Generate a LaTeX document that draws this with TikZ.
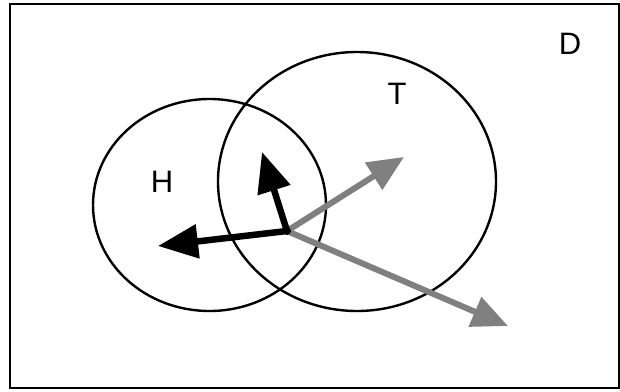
\documentclass[tikz,border=0pt]{standalone}
\usepackage{fontspec}
\setmainfont{Liberation Sans}
\usetikzlibrary{arrows.meta}
\begin{document}
\begin{tikzpicture}[x=1pt,y=-1pt,
  setline/.style={line width=2.4pt,black},
  blackvec/.style={line width=6.5pt,black,-{Triangle[length=40pt,width=33pt]}},
  grayvec/.style={line width=6pt,black!50,-{Triangle[length=36pt,width=31pt]}},
  lbl/.style={font=\fontsize{31}{34}\selectfont,inner sep=0pt}]
\useasboundingbox (0,0) rectangle (620,391);
\fill[white] (0,0) rectangle (620,391);
\draw[line width=2.6pt] (10,4) rectangle (619,388);
\draw[setline] (209.5,205) ellipse [x radius=116.5, y radius=106];
\draw[setline] (357,181.5) ellipse [x radius=139, y radius=129.5];
\node[lbl] (D) at (570,44) {D};
\node[lbl] (T) at (397,94) {T};
\node[lbl] (H) at (162,182) {H};
\coordinate (o) at (287,231);
\coordinate (up) at (262,152);
\coordinate (left) at (158,246);
\coordinate (ur) at (404,157);
\coordinate (dr) at (508,326);
\draw[grayvec] (o) -- (ur);
\draw[grayvec] (o) -- (dr);
\draw[blackvec] (o) -- (up);
\draw[blackvec] (o) -- (left);
\fill (o) circle (4pt);
\end{tikzpicture}
\end{document}
